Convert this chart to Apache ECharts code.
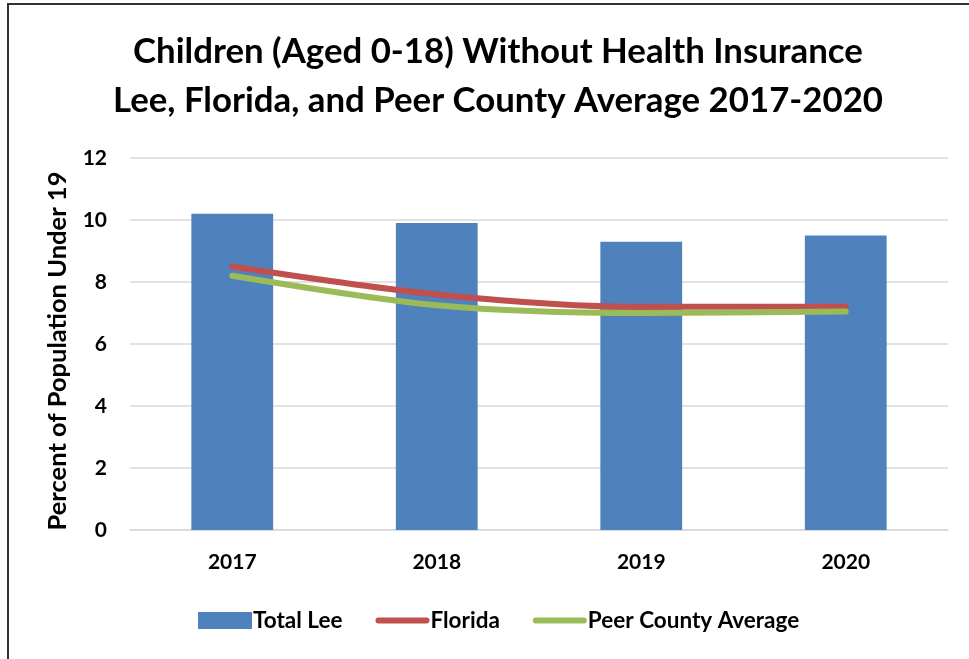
<!DOCTYPE html>
<html>
<head>
<meta charset="utf-8">
<script src="https://cdn.jsdelivr.net/npm/echarts@6/dist/echarts.min.js"></script>
<style>
html,body{margin:0;padding:0;background:#fff;}
#frame{position:absolute;left:7px;top:3px;width:980px;height:680px;border:2px solid #333;box-sizing:border-box;}
#chart{position:absolute;left:0;top:0;width:969px;height:659px;}
</style>
</head>
<body>
<div id="frame"></div>
<div id="chart"></div>
<script>
const categories = ['2017', '2018', '2019', '2020'];
const totalLee = [10.2, 9.9, 9.3, 9.5];
const florida = [8.5, 7.6, 7.2, 7.2];
const peerAverage = [8.2, 7.25, 7.0, 7.05];
const seriesNames = ['Total Lee', 'Florida', 'Peer County Average'];

const FONT = 'Lato';
const LINE_ICON = 'path://M3,0 L53,0 A3,3 0 0 1 53,6 L3,6 A3,3 0 0 1 3,0 Z';
const chart = echarts.init(document.getElementById('chart'), null, {renderer: 'canvas'});
chart.setOption({
  backgroundColor: 'transparent',
  animation: false,
  title: {
    text: 'Children (Aged 0-18) Without Health Insurance\nLee, Florida, and Peer County Average 2017-2020',
    left: 493,
    textAlign: 'center',
    top: 22,
    textStyle: {fontFamily: FONT, fontWeight: 'bold', fontSize: 34.8, lineHeight: 49, color: '#000'}
  },
  legend: {
    left: 193,
    top: 604,
    itemWidth: 54,
    itemHeight: 17,
    itemGap: 33,
    data: [
      {name: seriesNames[0], icon: 'rect'},
      {name: seriesNames[1], icon: LINE_ICON},
      {name: seriesNames[2], icon: LINE_ICON}
    ],
    textStyle: {fontFamily: FONT, fontWeight: 'bold', fontSize: 22.5, color: '#000', padding: [0, 0, 0, -4]}
  },
  grid: {left: 130, right: 21, top: 158, bottom: 129, containLabel: false},
  xAxis: {
    type: 'category',
    data: categories,
    axisLine: {lineStyle: {color: '#D9D9D9', width: 1.5}},
    axisTick: {show: false},
    axisLabel: {fontFamily: FONT, fontWeight: 'bold', fontSize: 21, color: '#000', margin: 22}
  },
  yAxis: {
    type: 'value',
    min: 0, max: 12, interval: 2,
    name: 'Percent of Population Under 19',
    nameLocation: 'middle',
    nameGap: 59,
    nameTextStyle: {fontFamily: FONT, fontWeight: 'bold', fontSize: 25.5, color: '#000', padding: [0, 14, 0, 0]},
    axisLine: {show: false},
    axisTick: {show: false},
    splitLine: {lineStyle: {color: '#D9D9D9', width: 1.5}},
    axisLabel: {fontFamily: FONT, fontWeight: 'bold', fontSize: 21, color: '#000', margin: 23}
  },
  series: [
    {
      name: seriesNames[0], type: 'bar', data: totalLee,
      barWidth: '40%',
      itemStyle: {color: '#4F81BD'}
    },
    {
      name: seriesNames[1], type: 'line', data: florida,
      smooth: 0.3, symbol: 'none',
      lineStyle: {color: '#C0504D', width: 6, cap: 'round'},
      itemStyle: {color: '#C0504D'}
    },
    {
      name: seriesNames[2], type: 'line', data: peerAverage,
      smooth: 0.3, symbol: 'none',
      lineStyle: {color: '#9BBB59', width: 6, cap: 'round'},
      itemStyle: {color: '#9BBB59'}
    }
  ]
});
</script>
</body>
</html>
